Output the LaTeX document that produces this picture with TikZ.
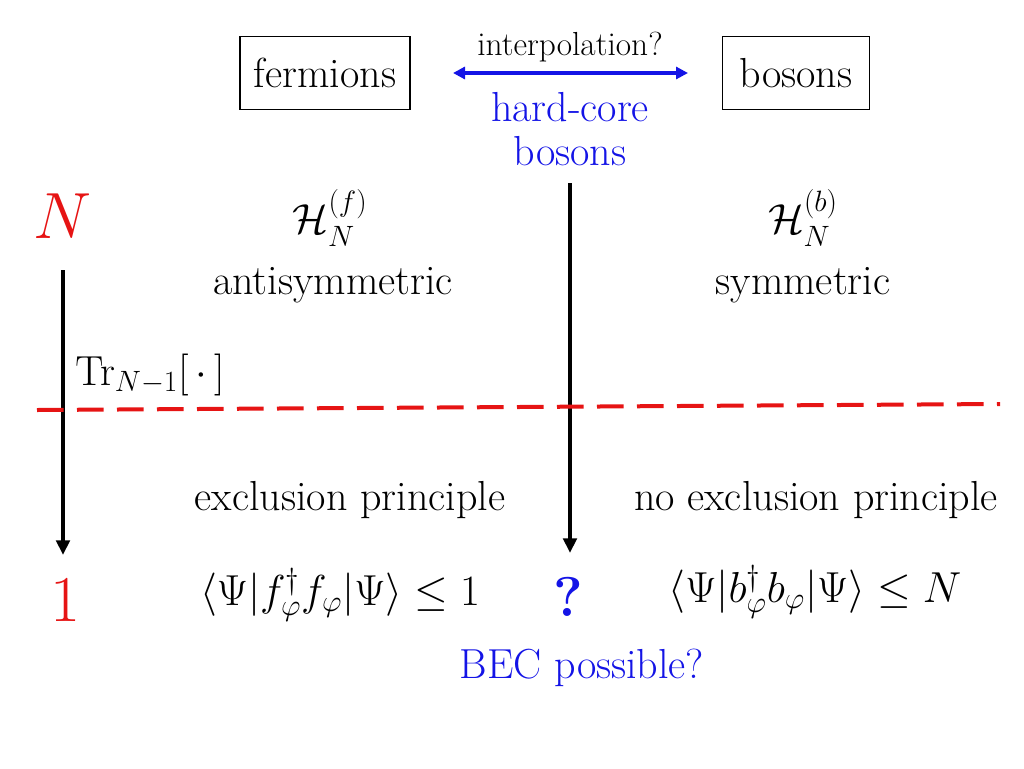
\RequirePackage{fix-cm}
\documentclass[tikz,border=0pt]{standalone}
\usepackage{amsmath,amssymb}
\usetikzlibrary{arrows.meta}
\definecolor{myblue}{RGB}{20,20,230}
\definecolor{myred}{RGB}{230,20,20}
\begin{document}
\begin{tikzpicture}[x=0.75pt,y=-0.75pt,
  txt/.style={font=\fontsize{31.5}{36}\selectfont, inner sep=0pt},
  box/.style={txt,draw,line width=1pt,minimum width=170*0.75pt,minimum height=73*0.75pt},
  bigarrow/.style={line width=3pt,-{Triangle[length=11pt,width=10pt]}}]
\useasboundingbox (0,0) rectangle (1024,768);
\node[box] (f) at (325,73) {fermions};
\node[box,minimum width=147*0.75pt] (b) at (796,73) {bosons};
\coordinate (il) at (453,73); \coordinate (ir) at (688,73);
\draw[myblue,line width=2.5pt,{Triangle[length=9pt,width=9pt]}-{Triangle[length=9pt,width=9pt]}] (il) -- (ir);
\node[txt,font=\fontsize{25}{28}\selectfont] (interp) at (570,47) {interpolation?};
\node[txt,myblue,align=center,font=\fontsize{31.5}{33}\selectfont] (hc) at (570,129) {hard-core\\bosons};
\coordinate (mt) at (570,183); \coordinate (mb) at (570,553);
\draw[bigarrow] (mt) -- (mb);
\node[txt,myred,font=\fontsize{49}{52}\selectfont] (N) at (63,216) {$N$};
\coordinate (lt) at (63,270); \coordinate (lb) at (63,555);
\draw[bigarrow] (lt) -- (lb);
\node[txt] (tr) at (150,375) {$\mathrm{Tr}_{N-1}[\,\cdot\,]$};
\node[txt] (hf) at (330,218) {$\mathcal{H}_N^{(f)}$};
\node[txt] (as) at (333,285) {antisymmetric};
\node[txt] (hb) at (803,218) {$\mathcal{H}_N^{(b)}$};
\node[txt] (sy) at (803,285) {symmetric};
\coordinate (dl) at (37,410); \coordinate (dr) at (1000,404);
\draw[myred,line width=3pt,dash pattern=on 20pt off 10pt] (dl) -- (dr);
\node[txt] (ex) at (350,500) {exclusion principle};
\node[txt] (nex) at (816,500) {no exclusion principle};
\node[txt,myred,font=\fontsize{49}{52}\selectfont] (one) at (65,600) {$1$};
\node[txt,font=\fontsize{32.5}{36}\selectfont] (ff) at (340,595) {$\langle\Psi|f_\varphi^\dagger f_\varphi|\Psi\rangle\le 1$};
\node[txt,myblue,font=\fontsize{42}{46}\selectfont\bfseries] (q) at (568,597) {?};
\node[txt,font=\fontsize{32.5}{36}\selectfont] (bb) at (815,592) {$\langle\Psi|b_\varphi^\dagger b_\varphi|\Psi\rangle\le N$};
\node[txt,myblue] (bec) at (582,668) {BEC possible?};
\end{tikzpicture}
\end{document}
